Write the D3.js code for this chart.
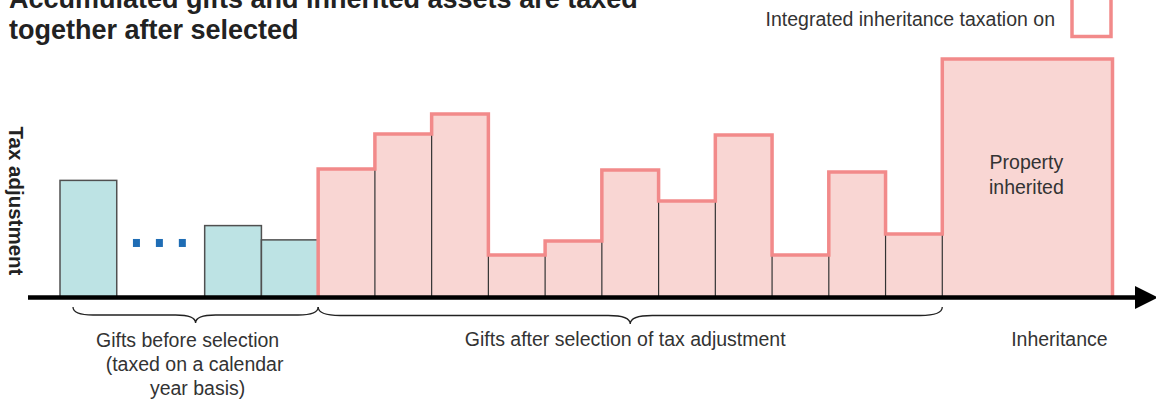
<!DOCTYPE html>
<html>
<head>
<meta charset="utf-8">
<script src="https://cdn.jsdelivr.net/npm/d3@7"></script>
<style>
  html, body { margin: 0; padding: 0; background: #fff; }
  svg { display: block; font-family: "Liberation Sans", Arial, sans-serif; }
</style>
</head>
<body>
<svg width="1156" height="403"></svg>
<script>
var svg = d3.select("svg"),
  width = 1156,
  height = 403;

//////////// DATA ////////////

// gifts taxed on a calendar year basis (before selection)
var beforeValues = [49, 30, 24];
// gifts after selection of tax adjustment
var afterValues = [53.8, 68.5, 76.9, 17.6, 23.5, 53.4, 40.3, 68.1, 17.6, 52.5, 26.5];
// property inherited
var inheritValue = 100;
// widths in "gift" units: one gift = 1, the dotted gap, the inheritance block
var gapWidth = 1.55;
var inheritWidth = 3;
var dotCount = 3;
var dotValue = 22.7;

var titleLines = ["Accumulated gifts and inherited assets are taxed", "together after selected"];
var legendLabel = "Integrated inheritance taxation on";
var yLabel = "Tax adjustment";
var beforeLabel = ["Gifts before selection", "(taxed on a calendar", "year basis)"];
var afterLabel = "Gifts after selection of tax adjustment";
var inheritLabel = "Inheritance";
var blockLabel = ["Property", "inherited"];

// colours
var tealFill = "#bde3e4",
  pinkFill = "#f9d6d3",
  pinkLine = "#f28a8a",
  dotColor = "#1f6db5";

var labelSize = 19.5;

//////////// LAYOUT ////////////

// lay every segment one after the other along the time axis
var segments = [];
var pos = 0;
segments.push({ kind: "before", x0: pos, x1: pos + 1, v: beforeValues[0] }); pos += 1;
var gapStart = pos; pos += gapWidth;
for (var i = 1; i < beforeValues.length; i++) {
  segments.push({ kind: "before", x0: pos, x1: pos + 1, v: beforeValues[i] }); pos += 1;
}
var afterStart = pos;
afterValues.forEach(function(v) {
  segments.push({ kind: "after", x0: pos, x1: pos + 1, v: v }); pos += 1;
});
var afterEnd = pos;
segments.push({ kind: "inherit", x0: pos, x1: pos + inheritWidth, v: inheritValue }); pos += inheritWidth;
var total = pos;

var x = d3.scaleLinear().domain([0, total]).range([60, 1112.5]);
var y = d3.scaleLinear().domain([0, 100]).range([297, 59]);

//////////// BARS ////////////

var pinkSegs = segments.filter(function(d) { return d.kind !== "before"; });

// teal gifts before selection
svg.append("g")
  .selectAll("rect")
  .data(segments.filter(function(d) { return d.kind === "before"; }))
  .enter().append("rect")
  .attr("x", function(d) { return x(d.x0); })
  .attr("y", function(d) { return y(d.v); })
  .attr("width", function(d) { return x(d.x1) - x(d.x0); })
  .attr("height", function(d) { return y(0) - y(d.v); })
  .attr("fill", tealFill)
  .attr("stroke", "#505050")
  .attr("stroke-width", 1.5);

// pink fill
svg.append("g")
  .selectAll("rect")
  .data(pinkSegs)
  .enter().append("rect")
  .attr("x", function(d) { return x(d.x0); })
  .attr("y", function(d) { return y(d.v); })
  .attr("width", function(d) { return x(d.x1) - x(d.x0); })
  .attr("height", function(d) { return y(0) - y(d.v); })
  .attr("fill", pinkFill);

// thin dark dividers between neighbours, up to the lower of the two
svg.append("g")
  .selectAll("line")
  .data(d3.pairs(pinkSegs))
  .enter().append("line")
  .attr("x1", function(d) { return x(d[0].x1); })
  .attr("x2", function(d) { return x(d[0].x1); })
  .attr("y1", y(0))
  .attr("y2", function(d) { return y(Math.min(d[0].v, d[1].v)); })
  .attr("stroke", "#333")
  .attr("stroke-width", 1.2);

// step outline of everything taxed together
var outline = [[x(pinkSegs[0].x0), y(0)]];
pinkSegs.forEach(function(d) {
  outline.push([x(d.x0), y(d.v)]);
  outline.push([x(d.x1), y(d.v)]);
});
outline.push([x(total), y(0)]);

svg.append("path")
  .attr("d", d3.line()(outline))
  .attr("fill", "none")
  .attr("stroke", pinkLine)
  .attr("stroke-width", 3.5)
  .attr("stroke-linejoin", "miter");

// dots in the gap
svg.append("g")
  .selectAll("rect")
  .data(d3.range(dotCount))
  .enter().append("rect")
  .attr("x", function(d) { return x(gapStart + gapWidth * (0.224 + 0.261 * d)) - 3.5; })
  .attr("y", y(dotValue) - 4)
  .attr("width", 7)
  .attr("height", 8)
  .attr("fill", dotColor);

// block label
svg.append("text")
  .attr("text-anchor", "middle")
  .attr("font-size", labelSize)
  .attr("fill", "#333")
  .selectAll("tspan")
  .data(blockLabel)
  .enter().append("tspan")
  .attr("x", x(afterEnd + inheritWidth / 2) - 1)
  .attr("y", function(d, i) { return 169 + i * 25; })
  .text(function(d) { return d; });

//////////// AXES ////////////

svg.append("line")
  .attr("x1", 28)
  .attr("x2", 1140)
  .attr("y1", 297.5)
  .attr("y2", 297.5)
  .attr("stroke", "#000")
  .attr("stroke-width", 4.5);

svg.append("path")
  .attr("d", "M1135,286 L1158,297.5 L1135,309 Z")
  .attr("fill", "#000");

svg.append("text")
  .attr("transform", "translate(9," + 201 + ") rotate(90)")
  .attr("text-anchor", "middle")
  .attr("font-size", 20.5)
  .attr("font-weight", "bold")
  .attr("fill", "#222")
  .text(yLabel);

//////////// BRACES ////////////

function bracePath(x1, x2, top, depth, r) {
  var xm = (x1 + x2) / 2, mid = top + depth / 2, bot = top + depth;
  return "M" + x1 + "," + top +
    " Q" + x1 + "," + mid + " " + (x1 + r) + "," + mid +
    " L" + (xm - r) + "," + mid +
    " Q" + xm + "," + mid + " " + xm + "," + bot +
    " Q" + xm + "," + mid + " " + (xm + r) + "," + mid +
    " L" + (x2 - r) + "," + mid +
    " Q" + x2 + "," + mid + " " + x2 + "," + top;
}

svg.append("path")
  .attr("d", bracePath(x(0) + 13, x(afterStart), 307, 16, 20))
  .attr("fill", "none")
  .attr("stroke", "#222")
  .attr("stroke-width", 1.3);

svg.append("path")
  .attr("d", bracePath(x(afterStart), x(afterEnd), 307, 17, 22))
  .attr("fill", "none")
  .attr("stroke", "#222")
  .attr("stroke-width", 1.3);

//////////// LABELS ////////////

var lineOffsets = [-5, 2, 5];
svg.append("text")
  .attr("text-anchor", "middle")
  .attr("font-size", labelSize)
  .attr("fill", "#333")
  .selectAll("tspan")
  .data(beforeLabel)
  .enter().append("tspan")
  .attr("x", function(d, i) { return (x(0) + 13 + x(afterStart)) / 2 - 3 + lineOffsets[i]; })
  .attr("y", function(d, i) { return 347 + i * 24; })
  .text(function(d) { return d; });

svg.append("text")
  .attr("x", (x(afterStart) + x(afterEnd)) / 2 - 5)
  .attr("y", 346)
  .attr("text-anchor", "middle")
  .attr("font-size", labelSize)
  .attr("fill", "#333")
  .text(afterLabel);

svg.append("text")
  .attr("x", (x(afterEnd) + x(total)) / 2 + 32)
  .attr("y", 346)
  .attr("text-anchor", "middle")
  .attr("font-size", labelSize)
  .attr("fill", "#333")
  .text(inheritLabel);

// title, first line runs off the top as in the original
svg.append("text")
  .attr("font-size", 27)
  .attr("font-weight", "bold")
  .attr("fill", "#222")
  .selectAll("tspan")
  .data(titleLines)
  .enter().append("tspan")
  .attr("x", 9)
  .attr("y", function(d, i) { return 8 + i * 31; })
  .text(function(d) { return d; });

// legend
svg.append("text")
  .attr("x", 1055)
  .attr("y", 26)
  .attr("text-anchor", "end")
  .attr("font-size", labelSize)
  .attr("fill", "#333")
  .text(legendLabel);

svg.append("rect")
  .attr("x", 1072)
  .attr("y", -10)
  .attr("width", 39)
  .attr("height", 46.5)
  .attr("fill", "#fff")
  .attr("stroke", pinkLine)
  .attr("stroke-width", 3.5);
</script>
</body>
</html>
